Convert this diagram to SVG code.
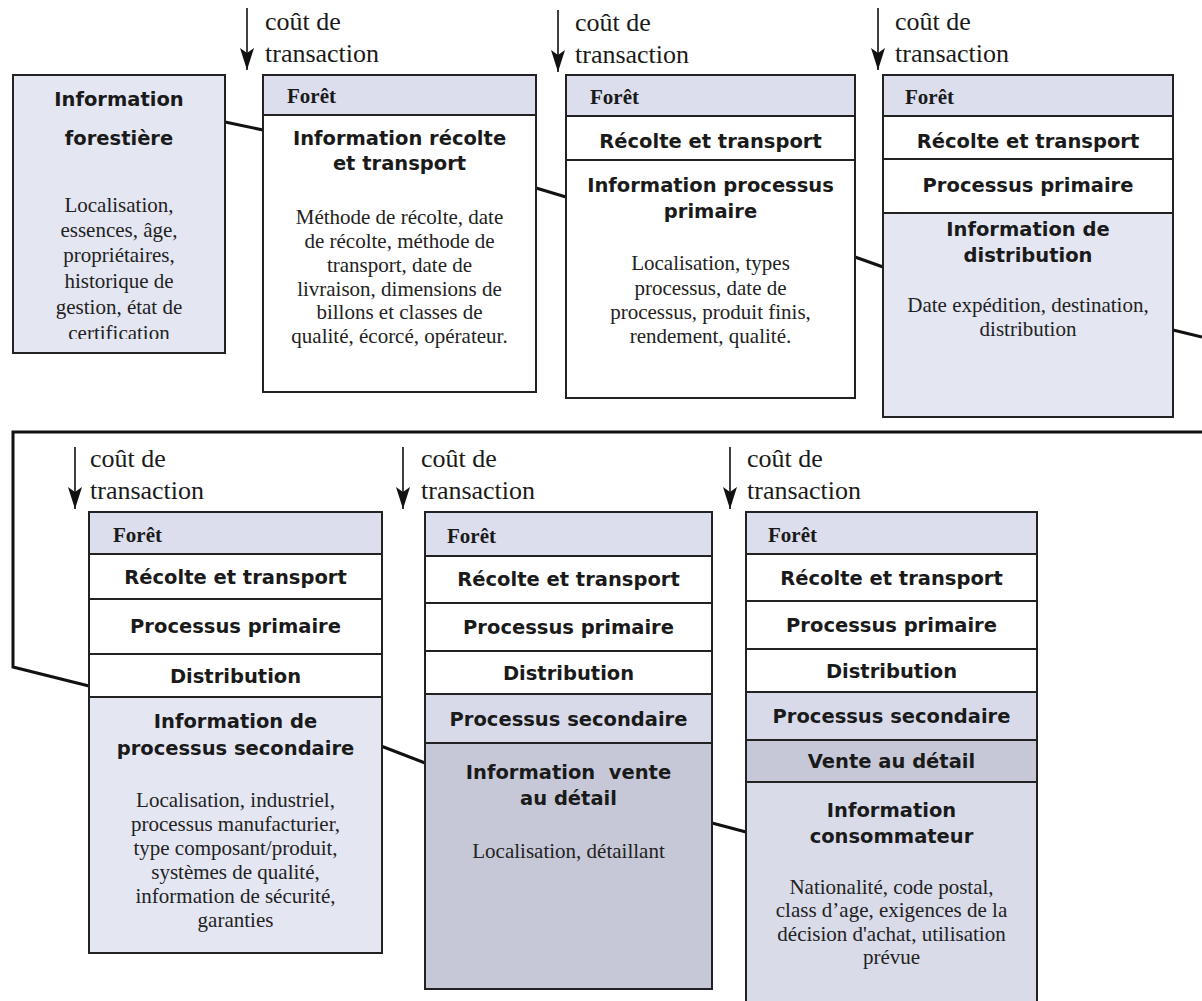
<svg xmlns="http://www.w3.org/2000/svg" width="1202" height="1001" viewBox="0 0 1202 1001">
<style>
.box{stroke:#222;stroke-width:2}
.sep{stroke:#222;stroke-width:2}
.lav{fill:#E4E6F2}
.hdr{fill:#DCDEEE}
.sec{fill:#D8DAEA}
.dark{fill:#C6C8D7}
.cons{fill:#D9DBE9}
.white{fill:#FFFFFF}
.h{font-family:"DejaVu Sans","Verdana",sans-serif;font-weight:bold;font-size:19.5px;fill:#1a1a1a;text-anchor:middle}
.f{font-family:"Liberation Serif","Times New Roman",serif;font-weight:bold;font-size:21px;fill:#1a1a1a}
.b{font-family:"Liberation Serif","Times New Roman",serif;font-size:21px;fill:#222;text-anchor:middle}
.t{font-family:"Liberation Serif","Times New Roman",serif;font-size:26px;fill:#1a1a1a}
.conn{fill:none;stroke:#111;stroke-width:3}
.arr{stroke:#111;stroke-width:1.6;marker-end:url(#ah)}
</style>
<defs>
<marker id="ah" markerUnits="userSpaceOnUse" markerWidth="24" markerHeight="16" viewBox="0 0 24 16" refX="22" refY="8" orient="auto">
<path d="M0,1 L22,8 L0,15 L5,8 Z" fill="#111"/>
</marker>
<clipPath id="c1"><rect x="13" y="75" width="212" height="264"/></clipPath>
</defs>
<rect width="1202" height="1001" fill="#FFFFFF"/>

<g id="connectors">
<path class="conn" d="M225,122 L263,130"/>
<path class="conn" d="M536,188 L566,197"/>
<path class="conn" d="M855,257 L883,267"/>
<path class="conn" d="M1173,330 L1202,337"/>
<path class="conn" d="M1202,432 L13,432 L13,667 L89,686"/>
<path class="conn" d="M381,746 L425,763"/>
<path class="conn" d="M712,823 L746,832"/>
</g>

<g id="transaction-costs">
<line class="arr" x1="247" y1="8" x2="247" y2="70"/>
<text class="t" x="265" y="30">coût de</text>
<text class="t" x="265" y="62">transaction</text>
<line class="arr" x1="558" y1="10" x2="558" y2="72"/>
<text class="t" x="575" y="31">coût de</text>
<text class="t" x="575" y="63">transaction</text>
<line class="arr" x1="878" y1="8" x2="878" y2="70"/>
<text class="t" x="895" y="30">coût de</text>
<text class="t" x="895" y="62">transaction</text>
<line class="arr" x1="75" y1="447" x2="75" y2="509"/>
<text class="t" x="90" y="467">coût de</text>
<text class="t" x="90" y="499">transaction</text>
<line class="arr" x1="403" y1="447" x2="403" y2="509"/>
<text class="t" x="421" y="467">coût de</text>
<text class="t" x="421" y="499">transaction</text>
<line class="arr" x1="730" y1="447" x2="730" y2="509"/>
<text class="t" x="747" y="467">coût de</text>
<text class="t" x="747" y="499">transaction</text>
</g>

<g id="node-information-forestiere">
<rect class="box lav" x="13" y="75" width="212" height="278"/>
<text class="h" x="119" y="106">Information</text>
<text class="h" x="119" y="145">forestière</text>
<g clip-path="url(#c1)">
<text class="b" x="119" y="212">Localisation,</text>
<text class="b" x="119" y="237">essences, âge,</text>
<text class="b" x="119" y="262">propriétaires,</text>
<text class="b" x="119" y="288">historique de</text>
<text class="b" x="119" y="314">gestion, état de</text>
<text class="b" x="119" y="340">certification</text>
</g>
</g>

<g id="node-recolte-transport">
<rect class="box white" x="263" y="75" width="273" height="317"/>
<rect class="hdr" x="264" y="76" width="271" height="39"/>
<line class="sep" x1="263" y1="115" x2="536" y2="115"/>
<text class="f" x="287" y="103">Forêt</text>
<text class="h" x="399.5" y="145">Information récolte</text>
<text class="h" x="399.5" y="170">et transport</text>
<text class="b" x="399.5" y="224">Méthode de récolte, date</text>
<text class="b" x="399.5" y="248">de récolte, méthode de</text>
<text class="b" x="399.5" y="272">transport, date de</text>
<text class="b" x="399.5" y="296">livraison, dimensions de</text>
<text class="b" x="399.5" y="319">billons et classes de</text>
<text class="b" x="399.5" y="343">qualité, écorcé, opérateur.</text>
</g>

<g id="node-processus-primaire">
<rect class="box white" x="566" y="75" width="289" height="323"/>
<rect class="hdr" x="567" y="76" width="287" height="40"/>
<line class="sep" x1="566" y1="116" x2="855" y2="116"/>
<line class="sep" x1="566" y1="160" x2="855" y2="160"/>
<text class="f" x="590" y="104">Forêt</text>
<text class="h" x="710.5" y="148">Récolte et transport</text>
<text class="h" x="710.5" y="192">Information processus</text>
<text class="h" x="710.5" y="218">primaire</text>
<text class="b" x="710.5" y="270">Localisation, types</text>
<text class="b" x="710.5" y="295">processus, date de</text>
<text class="b" x="710.5" y="319">processus, produit finis,</text>
<text class="b" x="710.5" y="343">rendement, qualité.</text>
</g>

<g id="node-distribution">
<rect class="box white" x="883" y="75" width="290" height="342"/>
<rect class="hdr" x="884" y="76" width="288" height="40"/>
<rect class="lav" x="884" y="213" width="288" height="203"/>
<line class="sep" x1="883" y1="116" x2="1173" y2="116"/>
<line class="sep" x1="883" y1="159" x2="1173" y2="159"/>
<line class="sep" x1="883" y1="213" x2="1173" y2="213"/>
<text class="f" x="905" y="104">Forêt</text>
<text class="h" x="1028" y="148">Récolte et transport</text>
<text class="h" x="1028" y="192">Processus primaire</text>
<text class="h" x="1028" y="236">Information de</text>
<text class="h" x="1028" y="262">distribution</text>
<text class="b" x="1028" y="312">Date expédition, destination,</text>
<text class="b" x="1028" y="336">distribution</text>
</g>

<g id="node-processus-secondaire">
<rect class="box white" x="89" y="512" width="293" height="441"/>
<rect class="hdr" x="90" y="513" width="291" height="41"/>
<rect class="lav" x="90" y="697" width="291" height="255"/>
<line class="sep" x1="89" y1="554" x2="382" y2="554"/>
<line class="sep" x1="89" y1="599" x2="382" y2="599"/>
<line class="sep" x1="89" y1="654" x2="382" y2="654"/>
<line class="sep" x1="89" y1="697" x2="382" y2="697"/>
<text class="f" x="113" y="542">Forêt</text>
<text class="h" x="235.5" y="584">Récolte et transport</text>
<text class="h" x="235.5" y="633">Processus primaire</text>
<text class="h" x="235.5" y="683">Distribution</text>
<text class="h" x="235.5" y="728">Information de</text>
<text class="h" x="235.5" y="755">processus secondaire</text>
<text class="b" x="235.5" y="807">Localisation, industriel,</text>
<text class="b" x="235.5" y="831">processus manufacturier,</text>
<text class="b" x="235.5" y="855">type composant/produit,</text>
<text class="b" x="235.5" y="879">systèmes de qualité,</text>
<text class="b" x="235.5" y="903">information de sécurité,</text>
<text class="b" x="235.5" y="927">garanties</text>
</g>

<g id="node-vente-detail">
<rect class="box white" x="425" y="512" width="287" height="477"/>
<rect class="hdr" x="426" y="513" width="285" height="43"/>
<rect class="sec" x="426" y="694" width="285" height="49"/>
<rect class="dark" x="426" y="743" width="285" height="245"/>
<line class="sep" x1="425" y1="556" x2="712" y2="556"/>
<line class="sep" x1="425" y1="603" x2="712" y2="603"/>
<line class="sep" x1="425" y1="651" x2="712" y2="651"/>
<line class="sep" x1="425" y1="694" x2="712" y2="694"/>
<line class="sep" x1="425" y1="743" x2="712" y2="743"/>
<text class="f" x="447" y="543">Forêt</text>
<text class="h" x="568.5" y="586">Récolte et transport</text>
<text class="h" x="568.5" y="634">Processus primaire</text>
<text class="h" x="568.5" y="680">Distribution</text>
<text class="h" x="568.5" y="726">Processus secondaire</text>
<text class="h" x="568.5" y="779" xml:space="preserve">Information  vente</text>
<text class="h" x="568.5" y="805">au détail</text>
<text class="b" x="568.5" y="858">Localisation, détaillant</text>
</g>

<g id="node-consommateur">
<rect class="box white" x="746" y="512" width="291" height="505"/>
<rect class="hdr" x="747" y="513" width="289" height="41"/>
<rect class="sec" x="747" y="692" width="289" height="48"/>
<rect class="dark" x="747" y="740" width="289" height="42"/>
<rect class="cons" x="747" y="782" width="289" height="234"/>
<line class="sep" x1="746" y1="554" x2="1037" y2="554"/>
<line class="sep" x1="746" y1="601" x2="1037" y2="601"/>
<line class="sep" x1="746" y1="649" x2="1037" y2="649"/>
<line class="sep" x1="746" y1="692" x2="1037" y2="692"/>
<line class="sep" x1="746" y1="740" x2="1037" y2="740"/>
<line class="sep" x1="746" y1="782" x2="1037" y2="782"/>
<text class="f" x="768" y="542">Forêt</text>
<text class="h" x="891.5" y="585">Récolte et transport</text>
<text class="h" x="891.5" y="632">Processus primaire</text>
<text class="h" x="891.5" y="678">Distribution</text>
<text class="h" x="891.5" y="723">Processus secondaire</text>
<text class="h" x="891.5" y="768">Vente au détail</text>
<text class="h" x="891.5" y="817">Information</text>
<text class="h" x="891.5" y="843">consommateur</text>
<text class="b" x="891.5" y="894">Nationalité, code postal,</text>
<text class="b" x="891.5" y="917">class d’age, exigences de la</text>
<text class="b" x="891.5" y="941">décision d'achat, utilisation</text>
<text class="b" x="891.5" y="964">prévue</text>
</g>
</svg>
